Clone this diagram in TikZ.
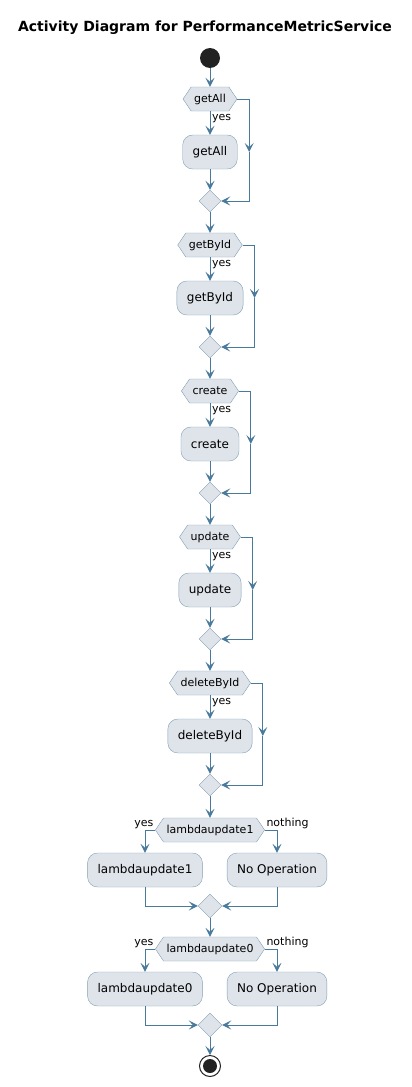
\documentclass[tikz,border=0pt]{standalone}
\usepackage{fontspec}
\setmainfont{DejaVu Sans}
\usetikzlibrary{arrows.meta,shapes.geometric,shapes.symbols}
\definecolor{flowline}{HTML}{4A7A9B}
\definecolor{boxfill}{HTML}{DFE4EB}
\definecolor{boxedge}{HTML}{819DB5}
\definecolor{startdark}{HTML}{222222}

\tikzset{
  action/.style={draw=boxedge, fill=boxfill, rounded corners=10pt, minimum height=34pt, inner xsep=10pt, font=\fontsize{12}{14}\selectfont},
  choice/.style={draw=boxedge, fill=boxfill, shape=signal, signal to=west and east, signal pointer angle=112, minimum height=24pt, inner xsep=3pt, inner ysep=0pt, font=\fontsize{11}{13}\selectfont},
  merge/.style={draw=boxedge, fill=boxfill, diamond, minimum size=22pt, inner sep=0pt},
  flow/.style={draw=flowline, line width=1pt, -{Stealth[length=9pt,width=9pt,inset=4pt]}},
  guard/.style={font=\fontsize{11}{13}\selectfont, inner sep=1.5pt},
}

\begin{document}
\begin{tikzpicture}[x=1pt, y=-1pt]
    \useasboundingbox (0,0) rectangle (412,1087);

    % Title
    \node[font=\fontsize{14}{16}\selectfont\bfseries] (title) at (205,28) {Activity Diagram for PerformanceMetricService};

    % Start
    \node[circle, fill=startdark, minimum size=20pt, inner sep=0pt] (start) at (210,58) {};

    % Simple if-blocks
    \foreach \name/\y [count=\i] in {getAll/99, getById/245, create/391, update/537, deleteById/683} {
        \node[choice] (h\i) at (210,\y) {\name};
        \node[action] (a\i) at (210,\y+53) {\name};
        \node[merge] (m\i) at (210,\y+102) {};
        \coordinate (s\i) at ([xshift=12pt]h\i.east |- a\i.center);
        \draw[flow] (h\i.south) -- node[guard, right, pos=0.3] {yes} (a\i.north);
        \draw[flow] (a\i.south) -- (m\i.north);
        \draw[flow] (h\i.east) -| (s\i);
        \draw[flow] (s\i) |- (m\i.east);
    }
    \draw[flow] (start) -- (h1.north);
    \foreach \i [evaluate=\i as \j using int(\i+1)] in {1,...,4}
        \draw[flow] (m\i.south) -- (h\j.north);

    % Two-way blocks
    \foreach \name/\y/\i in {lambdaupdate1/830/6, lambdaupdate0/949/7} {
        \node[choice] (h\i) at (210,\y) {\name};
        \node[action] (l\i) at (145,\y+40) {\name};
        \node[action] (r\i) at (277,\y+40) {No Operation};
        \node[merge, minimum size=24pt] (m\i) at (210,\y+76) {};
        \node[guard, above left] at (h\i.west) {yes};
        \node[guard, above right] at (h\i.east) {nothing};
        \draw[flow] (h\i.west) -| (l\i.north);
        \draw[flow] (h\i.east) -| (r\i.north);
        \draw[flow] (l\i.south) |- (m\i.west);
        \draw[flow] (r\i.south) |- (m\i.east);
    }
    \draw[flow] (m5.south) -- (h6.north);
    \draw[flow] (m6.south) -- (h7.north);

    % Stop
    \node[circle, draw=startdark, fill=white, line width=1pt, minimum size=21pt, inner sep=0pt] (stop) at (210,1066) {};
    \fill[startdark] (stop.center) circle (7pt);
    \draw[flow] (m7.south) -- (stop);
\end{tikzpicture}
\end{document}
